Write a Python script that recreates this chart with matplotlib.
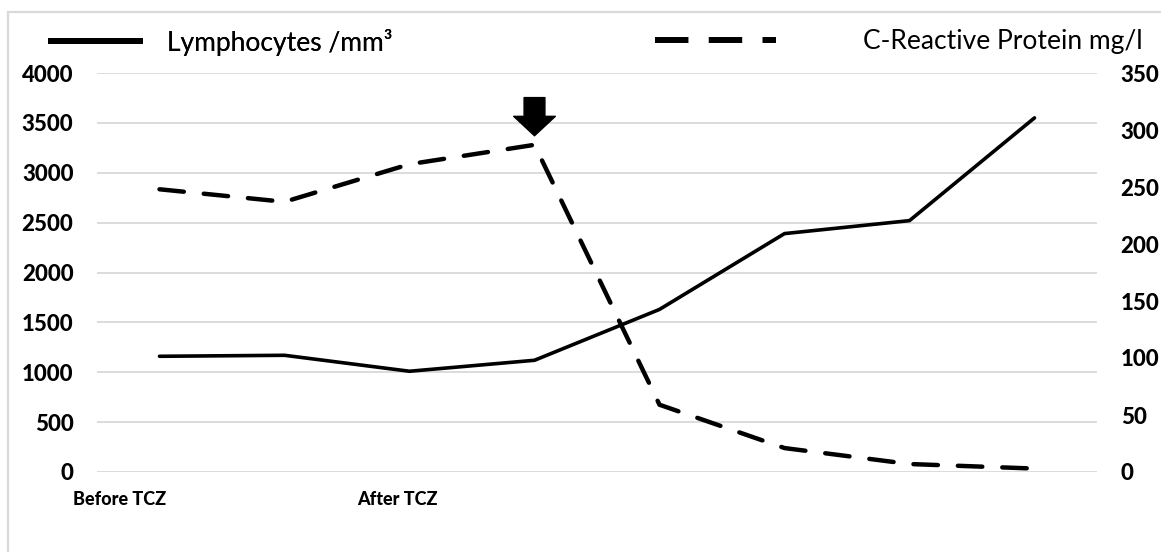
import matplotlib
matplotlib.use("Agg")
import matplotlib.pyplot as plt
from matplotlib.lines import Line2D
from matplotlib.patches import Rectangle

# data
steps = [0, 1, 2, 3, 4, 5, 6, 7]
lymphocytes = [1160, 1170, 1010, 1120, 1630, 2390, 2520, 3550]
crp = [248, 237, 270, 287, 59, 21, 7, 3]
xlabels = ["Before TCZ", "After TCZ"]
left_ticks = [0, 500, 1000, 1500, 2000, 2500, 3000, 3500, 4000]
right_ticks = [0, 50, 100, 150, 200, 250, 300, 350]

plt.rcParams['font.family'] = ['Lato', 'DejaVu Sans']

W, H = 1161, 552
fig = plt.figure(figsize=(W / 100, H / 100), dpi=100)
ax = fig.add_axes([97 / W, 1 - 472 / H, 1000 / W, 399 / H])
ax2 = ax.twinx()

# outer frame of the chart area
fig.add_artist(Rectangle((8 / W, -0.1), 1.2, 1 - 12 / H + 0.1, transform=fig.transFigure,
                         fill=False, edgecolor="#d9d9d9", linewidth=1.6))

l1, = ax.plot(steps, lymphocytes, color="black", linewidth=2.6, solid_capstyle="round",
              solid_joinstyle="round")
l2, = ax2.plot(steps, crp, color="black", linewidth=3.2, dashes=(5.5, 4.5),
               dash_capstyle="round", dash_joinstyle="round")

ax.set_xlim(-0.5, 7.5)
ax.set_ylim(0, 4000)
ax2.set_ylim(0, 350)
ax.set_yticks(left_ticks)
ax2.set_yticks(right_ticks)
ax.grid(axis="y", color="#d9d9d9", linewidth=1.3)
ax.set_axisbelow(True)
for a in (ax, ax2):
    for s in a.spines.values():
        s.set_visible(False)
    a.tick_params(length=0, labelsize=16)
ax.tick_params(axis="y", pad=17)
ax2.tick_params(axis="y", pad=17)

ax.set_xticks([-0.32, 1.9])
ax.set_xticklabels(xlabels)
ax.tick_params(axis="x", pad=14, labelsize=13)

# make tick labels heavy (after all tick_params calls)
for a in (ax, ax2):
    for tk in a.xaxis.get_major_ticks() + a.yaxis.get_major_ticks():
        tk.label1.set_fontweight(900)
        tk.label2.set_fontweight(900)

# arrow marking the TCZ dose
ax2.annotate("", xy=(3, crp[3]), xytext=(0, 34), textcoords="offset points",
             arrowprops=dict(arrowstyle="simple,head_width=3.0,head_length=1.4,tail_width=1.5",
                             mutation_scale=10, color="black", shrinkA=0, shrinkB=6.5))

h1 = Line2D([], [], color="black", linewidth=4.3, solid_capstyle="butt")
h2 = Line2D([], [], color="black", linewidth=4.3, dashes=(5.6, 3.4), dash_capstyle="butt")
leg1 = fig.legend([h1], ["Lymphocytes /mm³"], loc="center left",
                  bbox_to_anchor=(48 / W, 1 - 42 / H), frameon=False, fontsize=19,
                  handlelength=3.6, handletextpad=0.92, borderpad=0, borderaxespad=0)
leg2 = fig.legend([h2], ["C-Reactive Protein mg/l"], loc="center left",
                  bbox_to_anchor=(655 / W, 1 - 42 / H), frameon=False, fontsize=19,
                  handlelength=4.6, handletextpad=3.3, borderpad=0, borderaxespad=0)
fig.add_artist(leg1)

fig.savefig("out.png", dpi=100)
